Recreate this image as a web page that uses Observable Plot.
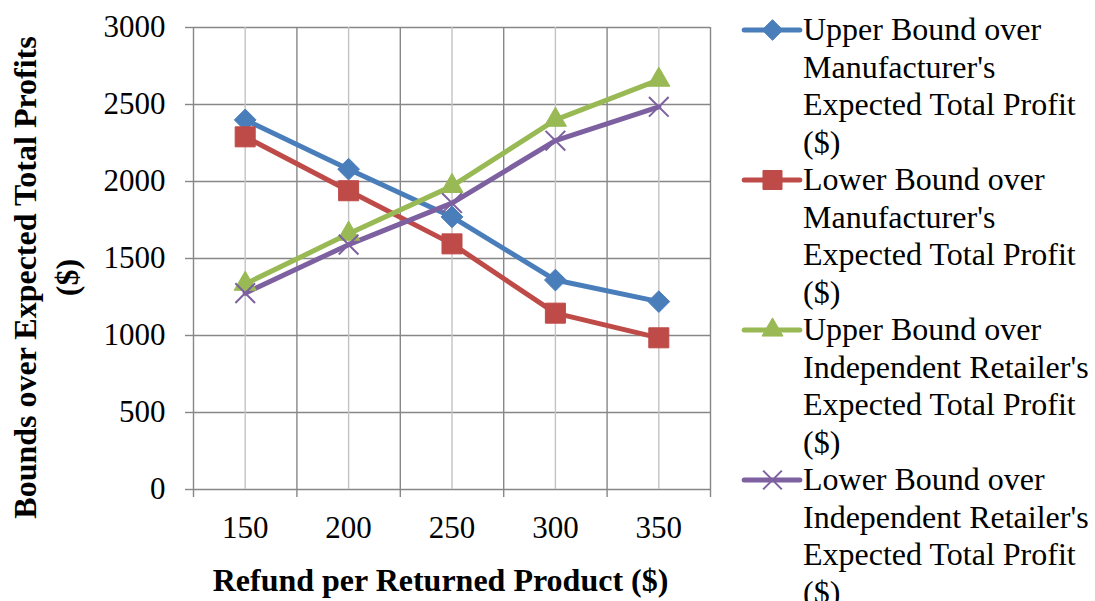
<!DOCTYPE html>
<html><head><meta charset="utf-8">
<script src="https://cdn.jsdelivr.net/npm/d3@7"></script>
<script src="https://cdn.jsdelivr.net/npm/@observablehq/plot@0.6"></script>
<style>
body{margin:0;background:#fff;font-family:"Liberation Serif","Times New Roman",serif;}
#wrap{position:relative;width:1095px;height:601px;overflow:hidden;background:#fff;}
#chart{position:absolute;left:0;top:0;}
#legend{position:absolute;left:743px;top:11px;font-size:32px;line-height:37.5px;color:#000;}
.item{display:flex;align-items:flex-start;}
.item svg{flex:none;display:block;}
.label{width:300px;margin-left:2px;}
</style>
</head><body>
<div id="wrap"><div id="chart"></div><div id="legend"></div></div>
<script>
const categories = [150, 200, 250, 300, 350];
const seriesNames = [
  "Upper Bound over Manufacturer's Expected Total Profit ($)",
  "Lower Bound over Manufacturer's Expected Total Profit ($)",
  "Upper Bound over Independent Retailer's Expected Total Profit ($)",
  "Lower Bound over Independent Retailer's Expected Total Profit ($)"
];
const upperManufacturer = [2400, 2080, 1770, 1360, 1220];
const lowerManufacturer = [2290, 1940, 1595, 1145, 985];
const upperRetailer = [1335, 1660, 1970, 2400, 2660];
const lowerRetailer = [1275, 1590, 1860, 2265, 2485];
const yTicks = [0, 500, 1000, 1500, 2000, 2500, 3000];
const xTitle = "Refund per Returned Product ($)";
const yTitle = "Bounds over Expected Total Profits\n($)";

const colors = ["#4A7EBB", "#BE4B48", "#98B954", "#7D60A0"];
const symbols = ["diamond2", "square", "triangle", "times"];
const radii = [9.8, 11.3, 8.2, 9];
const seriesValues = [upperManufacturer, lowerManufacturer, upperRetailer, lowerRetailer];

const step = categories[1] - categories[0];
const boundaries = categories.map(c => c - step / 2).concat([categories[categories.length - 1] + step / 2]);

const rows = [];
seriesValues.forEach((vals, i) => vals.forEach((v, j) => rows.push({x: categories[j], y: v, series: seriesNames[i]})));

const grid = "#878787";
const marks = [
  Plot.ruleY(yTicks, {stroke: grid, strokeWidth: 1.4}),
  Plot.ruleX(categories, {stroke: "#c3c3c3", strokeWidth: 1.4}),
  Plot.ruleX(boundaries, {stroke: grid, strokeWidth: 1.4}),
  Plot.axisY(yTicks, {label: null, tickSize: 8, tickPadding: 20, stroke: grid, tickFormat: d => String(d), fontSize: 31, strokeWidth: 1.4}),
  Plot.axisX(boundaries, {label: null, tickSize: 8, tickFormat: () => "", stroke: grid, strokeWidth: 1.4}),
  Plot.axisX(categories, {label: null, tickSize: 0, tickPadding: 26, tickFormat: d => String(d), fontSize: 31}),
  Plot.text([xTitle], {frameAnchor: "bottom", lineAnchor: "middle", textAnchor: "middle", dy: 91, dx: -11.5, fontWeight: "bold", fontSize: 32}),
  Plot.text([yTitle], {frameAnchor: "left", textAnchor: "middle", lineAnchor: "middle", dx: -150, dy: 19, rotate: -90, fontWeight: "bold", fontSize: 32, lineHeight: 1.3})
];
seriesNames.forEach((name, i) => {
  const d = rows.filter(r => r.series === name);
  marks.push(Plot.line(d, {x: "x", y: "y", stroke: colors[i], strokeWidth: 5}));
});
seriesNames.forEach((name, i) => {
  const d = rows.filter(r => r.series === name);
  const isStroke = symbols[i] === "times";
  marks.push(Plot.dot(d, {x: "x", y: "y", symbol: () => symbols[i], r: radii[i],
    fill: isStroke ? "none" : colors[i], stroke: colors[i], strokeWidth: isStroke ? 2 : 1}));
});

const chart = Plot.plot({
  width: 730, height: 601,
  marginLeft: 193, marginRight: 20, marginTop: 27, marginBottom: 112,
  x: {type: "linear", domain: [boundaries[0], boundaries[boundaries.length - 1]], axis: null},
  y: {domain: [0, 3000], axis: null},
  style: {fontFamily: "Liberation Serif, Times New Roman, serif", fontSize: "31px", color: "#000", background: "#fff", overflow: "visible"},
  marks
});
document.getElementById("chart").appendChild(chart);

const legend = document.getElementById("legend");
seriesNames.forEach((name, i) => {
  const item = document.createElement("div");
  item.className = "item";
  const sw = Plot.plot({
    width: 58, height: 37, margin: 0,
    x: {domain: [0, 1], axis: null}, y: {domain: [0, 1], axis: null},
    style: {background: "transparent", overflow: "visible"},
    marks: [
      Plot.ruleY([0.5], {x1: 0.02, x2: 0.98, stroke: colors[i], strokeWidth: 5, strokeLinecap: "round"}),
      Plot.dot([0.5], {x: 0.5, y: 0.5, symbol: () => symbols[i], r: radii[i] * 0.95,
        fill: symbols[i] === "times" ? "none" : colors[i], stroke: colors[i], strokeWidth: symbols[i] === "times" ? 2 : 1})
    ]
  });
  item.appendChild(sw);
  const lab = document.createElement("div");
  lab.className = "label";
  lab.textContent = name;
  item.appendChild(lab);
  legend.appendChild(item);
});
</script>
</body></html>
